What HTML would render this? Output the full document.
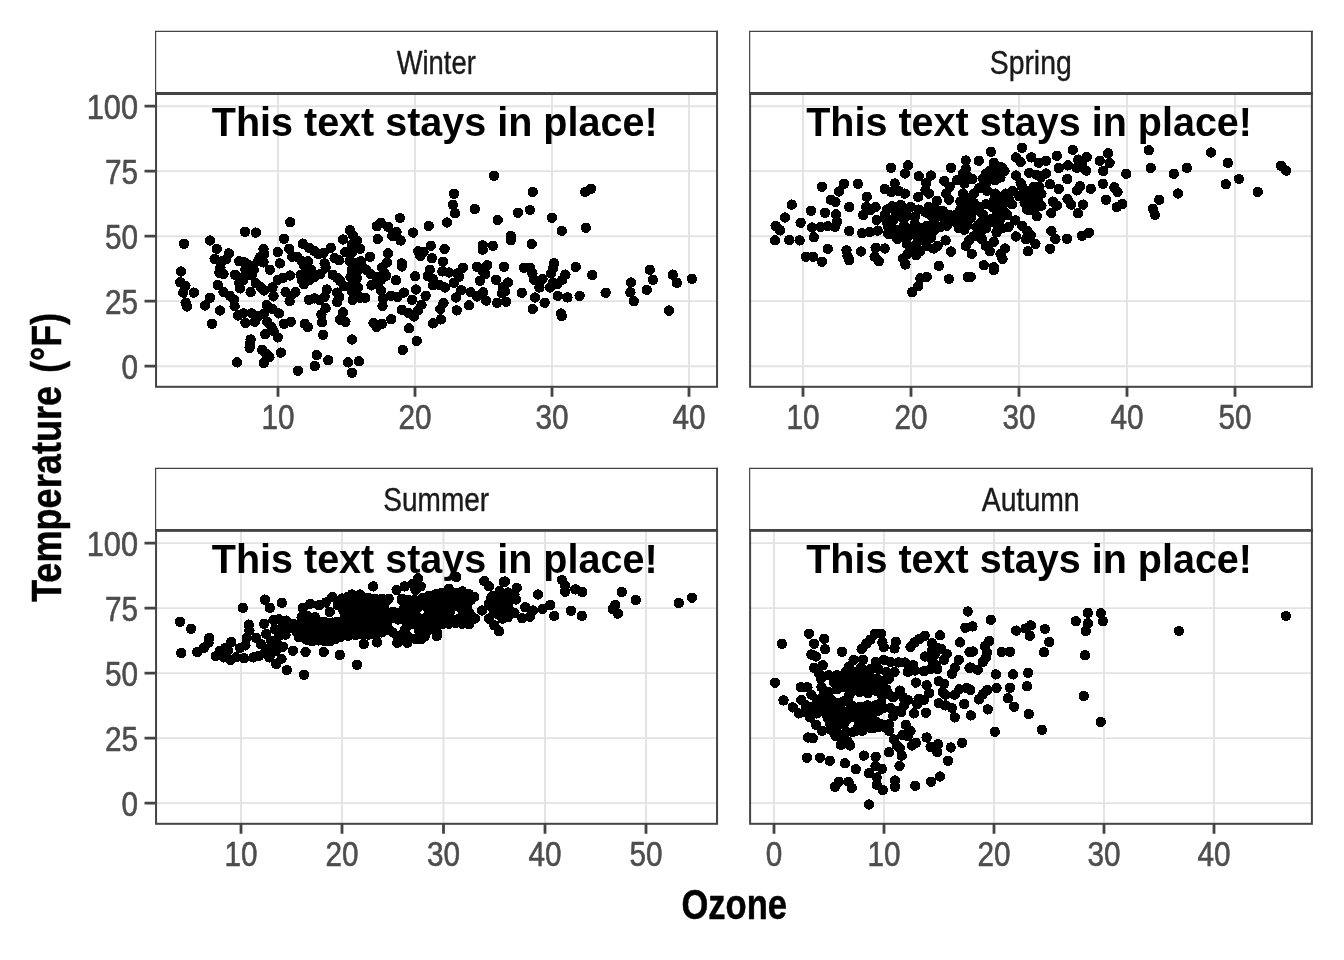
<!DOCTYPE html><html><head><meta charset="utf-8"><title>chart</title><style>html,body{margin:0;padding:0;background:#fff}svg{display:block;will-change:transform}text{font-family:"Liberation Sans",sans-serif}</style></head><body>
<svg width="1344" height="960" viewBox="0 0 1344 960">
<rect width="1344" height="960" fill="#fff"/>
<path d="M155.5 106.2H717.0M155.5 171.15H717.0M155.5 236.2H717.0M155.5 301.15H717.0M155.5 366.2H717.0M278 93.5V386.8M415 93.5V386.8M552 93.5V386.8M689 93.5V386.8" stroke="#e3e3e3" stroke-width="1.9" fill="none"/>
<path d="M184.0 243.8h0M180.8 271.5h0M180.2 282.2h0M185.4 285.9h0M183.3 292.6h0M193.8 292.6h0M185.6 302.6h0M187.1 306.5h0M210.0 240.5h0M216.7 248.8h0M214.6 258.8h0M222.5 261.3h0M220.4 267.6h0M219.4 272.8h0M223.5 274.2h0M217.7 284.9h0M210.0 297.8h0M204.8 305.5h0M220.0 310.5h0M212.1 323.8h0M223.5 292.2h0M228.8 253.4h0M226.2 259.2h0M229.8 295.7h0M234.0 299.9h0M234.6 306.1h0M238.1 315.5h0M243.3 313.4h0M237.1 362.4h0M239.2 261.3h0M235.0 274.9h0M240.2 278.0h0M239.2 283.2h0M240.2 288.4h0M244.4 262.4h0M245.0 231.8h0M245.4 269.7h0M245.4 275.9h0M243.3 280.1h0M255.8 232.6h0M250.6 292.2h0M249.6 265.5h0M253.8 269.7h0M251.7 274.9h0M257.9 261.3h0M260.0 257.2h0M263.5 248.8h0M264.2 254.0h0M263.5 262.4h0M255.8 283.2h0M261.0 287.4h0M264.2 290.5h0M245.4 322.8h0M251.7 313.4h0M254.8 321.8h0M257.9 316.5h0M250.6 339.5h0M250.0 343.6h0M249.6 347.8h0M262.1 349.9h0M266.2 354.0h0M269.4 357.2h0M263.8 363.0h0M265.2 334.2h0M264.2 313.4h0M266.7 305.1h0M269.8 269.7h0M272.5 287.4h0M273.5 296.3h0M277.7 252.0h0M279.8 263.4h0M277.7 279.7h0M284.0 238.8h0M272.5 309.2h0M278.8 313.4h0M267.3 321.8h0M271.5 327.0h0M273.5 331.1h0M277.7 337.4h0M280.8 352.6h0M284.0 323.8h0M282.9 278.0h0M290.2 222.2h0M289.2 248.8h0M292.3 256.8h0M297.5 257.2h0M290.2 275.5h0M285.6 292.2h0M290.8 295.7h0M295.4 292.2h0M289.6 301.3h0M290.8 321.8h0M297.9 370.7h0M302.7 243.6h0M301.7 261.3h0M303.8 265.5h0M300.6 274.9h0M301.7 280.1h0M303.8 284.2h0M304.8 323.8h0M307.9 327.0h0M309.0 247.8h0M314.2 250.9h0M318.3 254.0h0M323.5 253.0h0M307.9 261.3h0M311.0 269.7h0M307.9 273.8h0M314.2 277.0h0M309.0 280.1h0M320.4 273.8h0M325.6 267.6h0M324.6 263.4h0M309.0 299.9h0M314.2 298.4h0M319.4 299.9h0M324.6 296.8h0M326.7 289.5h0M325.6 308.2h0M321.5 314.5h0M322.1 322.2h0M323.1 334.9h0M316.7 355.1h0M314.8 366.1h0M330.8 247.8h0M328.3 360.3h0M334.6 258.2h0M339.2 260.3h0M332.9 274.9h0M337.1 278.0h0M340.2 281.1h0M343.3 239.5h0M345.4 252.0h0M337.1 292.6h0M339.2 296.8h0M337.1 302.0h0M342.9 312.4h0M340.2 319.7h0M345.4 321.8h0M344.4 286.3h0M350.0 230.1h0M352.7 235.3h0M356.9 240.5h0M351.7 244.7h0M360.0 248.8h0M351.7 253.0h0M349.6 261.3h0M355.8 263.4h0M361.0 261.3h0M351.7 269.7h0M357.9 270.7h0M363.1 267.6h0M350.6 277.0h0M356.9 278.0h0M352.7 284.2h0M357.9 287.4h0M351.7 291.5h0M356.9 294.7h0M352.7 299.9h0M360.0 297.8h0M365.2 297.8h0M366.2 269.7h0M352.1 339.5h0M348.1 362.4h0M359.0 361.3h0M352.1 372.8h0M370.0 256.8h0M376.7 226.3h0M380.8 222.8h0M388.1 227.0h0M377.7 239.0h0M370.4 273.8h0M376.7 277.0h0M371.5 285.3h0M377.7 284.2h0M380.8 280.1h0M381.9 267.6h0M387.1 262.4h0M388.1 253.4h0M384.0 272.8h0M380.8 290.5h0M382.9 298.8h0M382.5 306.1h0M373.5 322.8h0M376.7 327.0h0M381.9 323.8h0M386.0 275.9h0M400.0 218.0h0M396.5 231.8h0M392.3 235.9h0M400.6 240.5h0M401.7 263.4h0M401.7 266.5h0M396.0 280.1h0M391.2 295.7h0M397.5 296.8h0M403.8 292.6h0M391.2 319.2h0M401.7 309.7h0M409.0 313.4h0M402.7 349.9h0M409.0 328.4h0M413.1 232.6h0M428.8 225.9h0M430.8 245.7h0M418.3 251.3h0M423.5 252.0h0M420.4 256.1h0M431.9 258.2h0M415.2 276.3h0M416.2 289.5h0M412.1 299.9h0M425.6 295.7h0M421.5 304.7h0M418.3 310.3h0M414.2 316.5h0M416.7 340.9h0M432.9 323.4h0M429.8 269.7h0M427.7 275.9h0M432.9 279.0h0M432.9 285.3h0M494.0 175.8h0M454.0 193.8h0M452.9 204.8h0M455.0 213.1h0M447.1 222.5h0M474.8 209.0h0M497.7 220.0h0M517.9 212.7h0M530.0 210.0h0M532.7 191.9h0M551.9 217.7h0M561.7 230.8h0M585.8 227.7h0M585.2 191.9h0M591.0 188.8h0M510.8 236.0h0M510.8 240.2h0M531.7 244.0h0M482.7 245.4h0M482.7 249.6h0M492.9 245.8h0M444.6 249.0h0M442.9 261.7h0M504.0 266.9h0M575.8 266.9h0M592.1 275.0h0M554.0 263.1h0M442.5 271.5h0M448.8 272.5h0M457.1 273.5h0M462.9 267.7h0M459.2 276.7h0M439.4 285.0h0M445.0 287.5h0M454.0 282.9h0M461.2 290.2h0M456.0 297.5h0M443.5 303.3h0M440.4 309.0h0M440.8 319.4h0M456.7 310.4h0M469.0 305.4h0M476.9 266.7h0M487.3 265.2h0M483.1 271.5h0M485.2 274.2h0M480.0 280.8h0M470.6 292.3h0M476.9 296.5h0M483.1 292.3h0M486.2 300.6h0M496.0 279.8h0M508.1 282.5h0M502.9 287.1h0M505.0 291.2h0M501.9 293.3h0M506.0 301.7h0M497.1 302.9h0M521.7 292.7h0M523.8 267.7h0M530.0 267.7h0M532.5 273.5h0M534.2 279.8h0M542.5 278.8h0M539.4 287.5h0M549.8 287.5h0M552.9 282.9h0M550.8 273.5h0M552.9 268.3h0M565.4 274.6h0M562.3 279.8h0M557.1 284.0h0M534.8 297.5h0M544.6 302.7h0M532.7 309.0h0M557.7 295.8h0M567.5 297.5h0M579.6 295.8h0M561.2 313.5h0M561.7 316.2h0M605.6 292.7h0M631.0 282.5h0M630.4 292.3h0M633.8 301.2h0M646.7 289.8h0M652.9 279.8h0M649.8 269.8h0M672.7 274.6h0M676.9 282.9h0M691.9 278.8h0M669.0 310.6h0" stroke="#000" stroke-width="10.4" stroke-linecap="round" fill="none" shape-rendering="crispEdges"/>
<text transform="translate(434.65,135.80) scale(1,1.012)" font-size="39.53" font-weight="bold" text-anchor="middle" fill="#000">This text stays in place!</text>
<rect x="156.05" y="31.4" width="561.0" height="62.1" fill="#fff"/>
<path d="M155.60000000000002 93.5V31.299999999999997H718.0" stroke="#444444" stroke-width="1.2" fill="none"/>
<path d="M717.05 30.799999999999997V93.5" stroke="#444444" stroke-width="1.9" fill="none"/>
<text transform="translate(436.25,73.9) scale(0.838,1)" font-size="32.7" font-weight="normal" text-anchor="middle" fill="#1a1a1a" stroke="#1a1a1a" stroke-width="0.4" stroke-linejoin="round">Winter</text>
<rect x="156.05" y="93.5" width="561.0" height="293.3" fill="none" stroke="#444444" stroke-width="2.0"/>
<path d="M155.05 93.5H718.05" stroke="#444444" stroke-width="2.8" fill="none"/>
<path d="M278 386.8v10M415 386.8v10M552 386.8v10M689 386.8v10M155.5 106.2h-11M155.5 171.15h-11M155.5 236.2h-11M155.5 301.15h-11M155.5 366.2h-11" stroke="#444444" stroke-width="2.8" fill="none"/>
<text transform="translate(278,428.8) scale(0.84,1)" font-size="35.4" font-weight="normal" text-anchor="middle" fill="#4d4d4d" stroke="#4d4d4d" stroke-width="0.6" stroke-linejoin="round">10</text>
<text transform="translate(415,428.8) scale(0.84,1)" font-size="35.4" font-weight="normal" text-anchor="middle" fill="#4d4d4d" stroke="#4d4d4d" stroke-width="0.6" stroke-linejoin="round">20</text>
<text transform="translate(552,428.8) scale(0.84,1)" font-size="35.4" font-weight="normal" text-anchor="middle" fill="#4d4d4d" stroke="#4d4d4d" stroke-width="0.6" stroke-linejoin="round">30</text>
<text transform="translate(689,428.8) scale(0.84,1)" font-size="35.4" font-weight="normal" text-anchor="middle" fill="#4d4d4d" stroke="#4d4d4d" stroke-width="0.6" stroke-linejoin="round">40</text>
<text transform="translate(138.0,118.8) scale(0.869,1)" font-size="35.4" font-weight="normal" text-anchor="end" fill="#4d4d4d" stroke="#4d4d4d" stroke-width="0.6" stroke-linejoin="round">100</text>
<text transform="translate(138.0,183.75) scale(0.84,1)" font-size="35.4" font-weight="normal" text-anchor="end" fill="#4d4d4d" stroke="#4d4d4d" stroke-width="0.6" stroke-linejoin="round">75</text>
<text transform="translate(138.0,248.79999999999998) scale(0.84,1)" font-size="35.4" font-weight="normal" text-anchor="end" fill="#4d4d4d" stroke="#4d4d4d" stroke-width="0.6" stroke-linejoin="round">50</text>
<text transform="translate(138.0,313.75) scale(0.84,1)" font-size="35.4" font-weight="normal" text-anchor="end" fill="#4d4d4d" stroke="#4d4d4d" stroke-width="0.6" stroke-linejoin="round">25</text>
<text transform="translate(138.0,378.8) scale(0.84,1)" font-size="35.4" font-weight="normal" text-anchor="end" fill="#4d4d4d" stroke="#4d4d4d" stroke-width="0.6" stroke-linejoin="round">0</text>
<path d="M749.55 106.2H1311.85M749.55 171.15H1311.85M749.55 236.2H1311.85M749.55 301.15H1311.85M749.55 366.2H1311.85M803 93.5V386.8M911 93.5V386.8M1019 93.5V386.8M1127 93.5V386.8M1235 93.5V386.8" stroke="#e3e3e3" stroke-width="1.9" fill="none"/>
<path d="M791.7 204.6h0M785.0 217.5h0M775.6 225.8h0M780.2 230.4h0M775.0 240.4h0M800.6 222.7h0M789.2 240.0h0M799.6 240.4h0M811.0 210.8h0M812.1 227.5h0M813.8 237.3h0M821.9 186.7h0M825.0 212.9h0M830.8 199.8h0M835.4 201.9h0M838.8 191.5h0M844.0 183.8h0M857.9 183.8h0M836.0 214.4h0M820.4 226.9h0M827.7 226.2h0M835.0 226.9h0M837.1 221.7h0M849.2 207.1h0M849.2 231.0h0M827.7 248.8h0M805.8 256.7h0M813.1 256.7h0M821.9 261.7h0M846.5 250.4h0M847.5 256.0h0M849.2 260.2h0M861.0 251.5h0M862.1 233.1h0M869.8 232.1h0M877.7 230.6h0M866.7 196.7h0M866.2 207.1h0M870.4 210.2h0M875.6 207.1h0M863.1 215.0h0M876.7 220.0h0M875.6 247.7h0M874.6 256.7h0M878.8 261.2h0M993.8 270.0h0M920.4 278.3h0M926.7 276.9h0M918.3 286.2h0M912.1 292.1h0M949.0 279.0h0M967.7 276.9h0M970.8 276.9h0M1072.7 149.8h0M1108.1 153.3h0M1086.7 157.1h0M1078.3 159.6h0M1099.8 160.8h0M1109.6 162.9h0M1067.9 165.4h0M1076.9 167.9h0M1086.2 170.6h0M1082.1 163.3h0M1103.3 171.0h0M1126.2 173.8h0M1148.8 150.2h0M1150.8 167.9h0M1173.8 173.8h0M1186.9 167.9h0M1210.8 152.5h0M1227.9 162.9h0M1239.0 179.0h0M1225.8 184.2h0M1257.7 191.9h0M1281.0 165.8h0M1286.2 170.6h0M1067.1 179.0h0M1076.9 190.4h0M1080.0 186.2h0M1090.8 188.8h0M1102.9 183.8h0M1114.4 187.3h0M1117.5 192.1h0M1106.0 199.8h0M1122.3 204.0h0M1116.9 207.1h0M1159.2 199.8h0M1177.9 193.5h0M1152.9 208.8h0M1155.0 215.0h0M1067.5 198.8h0M1071.2 204.6h0M1083.1 204.6h0M1077.9 213.3h0M1067.1 238.8h0M1082.1 235.8h0M1089.0 232.7h0M1022.0 147.8h0M990.9 151.8h0M965.7 160.5h0M978.8 160.8h0M1015.9 157.4h0M1020.6 162.1h0M1031.3 157.4h0M1046.1 160.8h0M1038.7 162.8h0M1056.8 155.8h0M1058.8 168.1h0M891.0 167.9h0M907.9 165.4h0M904.8 173.5h0M951.0 167.9h0M965.7 168.8h0M993.8 162.8h0M997.9 166.8h0M989.8 170.8h0M985.8 173.5h0M996.5 172.1h0M1004.5 170.8h0M991.2 177.5h0M1029.3 172.8h0M1036.7 174.8h0M1046.1 173.5h0M1040.7 177.5h0M918.8 176.2h0M930.9 175.5h0M926.2 182.9h0M925.5 190.2h0M928.9 193.6h0M918.2 196.9h0M944.3 180.8h0M949.6 186.9h0M946.3 193.6h0M949.0 199.6h0M936.9 200.9h0M957.0 180.2h0M964.4 183.5h0M967.7 176.2h0M972.4 178.8h0M963.0 173.5h0M1015.9 175.5h0M1020.6 182.9h0M1026.0 190.9h0M1022.0 186.2h0M894.7 183.5h0M884.7 188.9h0M891.4 192.2h0M898.7 190.9h0M904.8 193.6h0M979.1 188.2h0M985.8 184.2h0M987.1 190.9h0M995.2 193.6h0M973.7 193.6h0M969.1 197.6h0M960.4 201.6h0M967.0 203.6h0M1005.9 193.6h0M1012.6 190.9h0M1008.6 198.9h0M1003.2 203.6h0M1011.9 204.3h0M1001.2 209.6h0M1039.4 186.9h0M1050.1 184.2h0M1058.8 188.9h0M1034.0 194.9h0M1041.4 193.6h0M1026.0 198.9h0M1024.6 202.9h0M1030.7 204.3h0M1036.0 207.0h0M1041.4 205.6h0M1031.3 210.3h0M1036.7 216.3h0M1052.8 201.6h0M1056.8 205.6h0M1051.4 213.0h0M892.1 206.3h0M900.8 205.0h0M910.8 207.0h0M906.8 209.6h0M918.8 209.6h0M928.9 207.0h0M925.5 212.3h0M884.7 215.0h0M890.0 220.4h0M900.1 215.0h0M903.4 219.0h0M914.8 217.0h0M942.9 211.0h0M937.6 216.3h0M933.6 221.7h0M949.6 215.0h0M957.7 214.3h0M965.7 212.3h0M972.4 209.6h0M979.1 207.0h0M985.8 204.3h0M992.5 207.0h0M983.1 215.0h0M996.5 215.0h0M971.1 217.7h0M963.0 220.4h0M955.0 221.7h0M947.0 225.7h0M940.3 227.0h0M959.0 228.4h0M964.4 229.7h0M933.6 231.1h0M926.9 225.7h0M920.2 228.4h0M1000.5 219.0h0M1007.2 215.0h0M1015.3 220.4h0M995.2 223.0h0M987.1 223.0h0M1022.0 225.7h0M1008.6 227.0h0M1027.3 231.1h0M1001.9 228.4h0M996.5 232.4h0M985.8 228.4h0M979.8 232.4h0M973.7 236.4h0M969.1 240.4h0M965.7 245.8h0M971.7 253.8h0M981.8 239.1h0M985.8 245.8h0M989.8 251.2h0M993.8 241.8h0M1005.2 248.5h0M1000.5 253.8h0M1002.5 259.2h0M1015.9 236.4h0M1026.0 239.1h0M1030.7 235.1h0M1035.4 243.8h0M1028.0 251.2h0M1051.4 231.1h0M1055.4 239.1h0M1050.1 248.7h0M888.0 227.0h0M892.1 233.7h0M897.4 239.1h0M886.7 221.7h0M902.8 231.1h0M908.1 236.4h0M913.5 233.7h0M917.5 241.8h0M924.2 239.1h0M930.9 237.8h0M926.9 245.8h0M933.6 248.5h0M937.6 245.8h0M912.1 249.8h0M907.5 253.8h0M902.8 258.5h0M916.2 255.2h0M920.2 251.2h0M905.4 264.5h0M945.6 240.4h0M951.0 251.6h0M938.9 265.9h0M884.7 248.5h0M983.8 265.2h0M993.8 267.2h0M1000.5 177.5h0M995.2 180.2h0M987.1 179.5h0M1001.9 167.5h0M983.1 178.8h0M886.7 209.6h0M896.1 212.3h0M906.8 215.7h0M914.8 223.7h0M893.4 220.4h0M888.0 233.7h0M910.8 229.1h0M920.2 233.7h0M900.1 236.4h0M906.8 243.8h0M915.5 246.5h0M924.2 232.4h0M930.9 215.0h0M936.2 209.6h0M896.1 229.7h0M904.1 225.7h0M944.3 219.0h0M952.3 220.4h0M960.4 209.6h0M968.4 220.4h0M967.0 225.7h0M955.0 215.0h0M963.0 193.6h0M973.7 202.9h0M979.1 211.0h0M993.8 200.3h0M1000.5 197.6h0M997.9 205.6h0M1004.5 212.3h0M991.2 219.0h0M980.4 223.0h0M976.4 227.0h0M1030.0 193.6h0M1038.0 198.9h0M1027.3 209.6h0M1034.0 186.9h0M1019.3 196.2h0" stroke="#000" stroke-width="10.4" stroke-linecap="round" fill="none" shape-rendering="crispEdges"/>
<text transform="translate(1029.10,135.80) scale(1,1.012)" font-size="39.53" font-weight="bold" text-anchor="middle" fill="#000">This text stays in place!</text>
<rect x="750.0999999999999" y="31.4" width="561.8" height="62.1" fill="#fff"/>
<path d="M749.6499999999999 93.5V31.299999999999997H1312.85" stroke="#444444" stroke-width="1.2" fill="none"/>
<path d="M1311.8999999999999 30.799999999999997V93.5" stroke="#444444" stroke-width="1.9" fill="none"/>
<text transform="translate(1030.6999999999998,73.9) scale(0.867,1)" font-size="32.7" font-weight="normal" text-anchor="middle" fill="#1a1a1a" stroke="#1a1a1a" stroke-width="0.4" stroke-linejoin="round">Spring</text>
<rect x="750.0999999999999" y="93.5" width="561.8" height="293.3" fill="none" stroke="#444444" stroke-width="2.0"/>
<path d="M749.0999999999999 93.5H1312.8999999999999" stroke="#444444" stroke-width="2.8" fill="none"/>
<path d="M803 386.8v10M911 386.8v10M1019 386.8v10M1127 386.8v10M1235 386.8v10" stroke="#444444" stroke-width="2.8" fill="none"/>
<text transform="translate(803,428.8) scale(0.84,1)" font-size="35.4" font-weight="normal" text-anchor="middle" fill="#4d4d4d" stroke="#4d4d4d" stroke-width="0.6" stroke-linejoin="round">10</text>
<text transform="translate(911,428.8) scale(0.84,1)" font-size="35.4" font-weight="normal" text-anchor="middle" fill="#4d4d4d" stroke="#4d4d4d" stroke-width="0.6" stroke-linejoin="round">20</text>
<text transform="translate(1019,428.8) scale(0.84,1)" font-size="35.4" font-weight="normal" text-anchor="middle" fill="#4d4d4d" stroke="#4d4d4d" stroke-width="0.6" stroke-linejoin="round">30</text>
<text transform="translate(1127,428.8) scale(0.84,1)" font-size="35.4" font-weight="normal" text-anchor="middle" fill="#4d4d4d" stroke="#4d4d4d" stroke-width="0.6" stroke-linejoin="round">40</text>
<text transform="translate(1235,428.8) scale(0.84,1)" font-size="35.4" font-weight="normal" text-anchor="middle" fill="#4d4d4d" stroke="#4d4d4d" stroke-width="0.6" stroke-linejoin="round">50</text>
<path d="M155.5 543.1500000000001H717.0M155.5 608.1H717.0M155.5 673.1500000000001H717.0M155.5 738.1H717.0M155.5 803.1500000000001H717.0M241 530.45V823.8M342 530.45V823.8M443.5 530.45V823.8M545 530.45V823.8M646 530.45V823.8" stroke="#e3e3e3" stroke-width="1.9" fill="none"/>
<path d="M180.0 621.9h0M191.1 628.9h0M181.1 653.0h0M209.2 638.0h0M208.5 642.7h0M203.8 648.0h0M197.1 652.0h0M242.9 607.9h0M264.8 599.6h0M269.9 607.9h0M281.9 602.9h0M215.9 656.1h0M219.9 650.7h0M225.3 648.0h0M231.3 642.0h0M227.9 650.7h0M230.6 660.1h0M223.9 657.4h0M236.0 657.4h0M240.0 648.0h0M244.0 658.1h0M245.4 645.4h0M246.7 638.0h0M249.4 630.6h0M248.7 624.6h0M256.1 638.0h0M260.8 644.0h0M253.4 657.4h0M258.7 656.1h0M264.1 653.4h0M264.1 623.9h0M266.1 634.0h0M270.8 640.7h0M269.5 648.0h0M269.5 657.4h0M273.5 619.9h0M278.8 619.2h0M286.2 620.6h0M274.8 629.3h0M281.5 627.9h0M278.8 636.0h0M285.5 634.6h0M277.5 644.0h0M282.9 646.7h0M276.2 650.7h0M281.5 658.7h0M276.2 664.1h0M286.9 670.1h0M292.9 650.7h0M304.0 674.8h0M305.6 652.0h0M323.7 652.0h0M339.8 655.0h0M302.9 607.9h0M310.3 603.8h0M301.6 617.2h0M307.0 615.9h0M319.0 605.2h0M325.7 602.5h0M332.4 597.1h0M341.8 598.5h0M329.7 611.9h0M315.0 617.2h0M311.0 622.6h0M337.8 605.2h0M343.1 609.2h0M296.2 629.3h0M300.3 636.0h0M305.6 627.9h0M312.3 632.0h0M307.0 640.0h0M319.0 626.6h0M325.7 622.6h0M332.4 627.9h0M339.1 622.6h0M344.5 627.9h0M319.0 637.3h0M325.7 634.6h0M329.7 641.3h0M337.8 636.0h0M312.3 641.3h0M343.1 634.6h0M290.9 627.9h0M293.6 623.9h0M303.5 623.4h0M309.3 621.5h0M315.9 623.8h0M322.6 621.8h0M330.5 623.4h0M336.7 621.9h0M343.6 623.4h0M298.7 629.5h0M306.0 629.0h0M313.9 629.6h0M319.8 629.4h0M326.4 629.3h0M334.6 629.4h0M341.6 629.3h0M303.7 635.4h0M309.7 633.7h0M315.8 635.2h0M324.6 633.5h0M329.8 635.2h0M337.2 634.7h0M345.3 634.7h0M326.4 641.1h0M295.6 627.9h0M301.6 622.6h0M307.8 622.6h0M314.0 622.6h0M320.2 622.6h0M326.4 622.6h0M332.6 622.6h0M338.8 622.6h0M345.0 622.6h0M345.0 628.9h0M345.0 635.3h0M339.9 637.3h0M334.8 639.3h0M329.7 641.3h0M323.9 640.9h0M318.1 640.4h0M312.3 640.0h0M305.6 638.7h0M298.9 637.3h0M297.2 632.6h0M373.2 586.4h0M351.7 594.5h0M359.8 594.5h0M396.6 589.8h0M404.6 586.4h0M412.7 583.7h0M418.0 578.4h0M420.7 586.4h0M415.4 589.8h0M456.2 577.1h0M363.8 644.0h0M377.2 642.4h0M397.3 642.7h0M407.3 642.7h0M420.7 639.3h0M436.8 636.0h0M484.3 581.1h0M489.0 586.4h0M503.7 581.7h0M499.7 591.1h0M493.0 598.5h0M489.0 603.8h0M482.3 610.5h0M489.0 618.6h0M494.4 625.3h0M499.1 631.3h0M502.4 597.1h0M501.1 610.5h0M495.7 606.5h0M339.7 654.7h0M357.1 664.8h0M437.8 594.0h0M445.2 594.9h0M453.2 593.7h0M461.0 595.6h0M466.3 595.5h0M344.2 601.4h0M352.0 601.2h0M359.9 601.8h0M365.7 600.2h0M372.2 601.3h0M379.3 600.4h0M386.0 600.8h0M401.8 600.0h0M408.4 601.6h0M414.7 599.9h0M420.7 600.8h0M429.3 600.3h0M434.3 600.6h0M441.8 600.4h0M449.5 601.8h0M456.6 600.5h0M463.6 601.4h0M471.3 599.6h0M349.1 605.6h0M354.5 607.3h0M361.7 606.2h0M368.3 607.3h0M376.0 606.5h0M384.1 607.7h0M404.3 608.0h0M410.2 606.0h0M417.5 608.0h0M426.3 606.4h0M432.4 606.8h0M438.6 607.8h0M447.2 606.3h0M451.9 607.7h0M460.2 607.8h0M467.2 607.4h0M344.2 612.3h0M351.9 612.9h0M357.8 613.5h0M364.9 613.4h0M374.1 611.9h0M380.3 612.5h0M387.8 613.5h0M393.1 611.9h0M399.7 612.5h0M407.1 611.7h0M415.3 613.3h0M428.8 613.1h0M435.4 613.4h0M442.7 612.7h0M449.5 613.4h0M464.2 612.4h0M469.6 613.5h0M347.9 618.4h0M354.4 618.3h0M362.2 618.8h0M369.7 619.2h0M377.6 618.4h0M383.9 617.8h0M391.2 618.2h0M397.8 619.5h0M403.8 619.7h0M412.2 619.4h0M417.6 617.7h0M425.4 618.2h0M432.0 620.1h0M438.3 618.4h0M445.5 618.1h0M452.9 619.9h0M460.0 618.2h0M467.0 618.2h0M474.1 618.4h0M345.4 624.3h0M352.3 625.1h0M360.1 625.0h0M366.1 625.0h0M374.1 625.8h0M379.5 624.1h0M386.9 624.8h0M407.0 625.8h0M413.5 623.9h0M422.1 626.0h0M429.3 625.7h0M435.7 624.2h0M347.4 629.8h0M355.5 630.6h0M362.2 631.3h0M369.2 631.9h0M376.8 631.2h0M384.4 630.4h0M404.6 630.2h0M419.1 630.9h0M424.1 631.3h0M400.6 636.3h0M408.5 637.1h0M422.2 637.7h0M345.0 600.1h0M348.4 596.7h0M355.1 596.7h0M361.8 596.7h0M368.5 597.7h0M375.2 598.7h0M381.9 598.7h0M388.6 598.7h0M402.0 598.7h0M408.7 599.8h0M415.4 600.8h0M422.0 598.4h0M428.7 596.1h0M435.4 594.4h0M442.1 592.7h0M448.8 588.7h0M455.5 592.7h0M462.2 591.4h0M468.9 594.1h0M474.3 596.7h0M474.9 618.6h0M468.9 624.3h0M462.2 623.7h0M455.5 623.0h0M448.8 623.7h0M442.1 624.3h0M436.8 632.0h0M428.7 629.7h0M424.7 636.4h0M420.0 637.7h0M415.4 639.1h0M408.7 639.7h0M402.0 640.4h0M397.3 636.4h0M392.6 632.4h0M388.6 629.7h0M381.9 632.4h0M375.2 635.0h0M368.5 634.7h0M361.8 634.4h0M355.1 635.0h0M348.4 635.7h0M345.0 635.0h0M345.0 629.2h0M345.0 623.4h0M345.0 617.6h0M345.0 611.7h0M345.0 605.9h0M491.3 597.8h0M498.6 598.6h0M506.7 597.5h0M497.0 605.4h0M502.4 605.3h0M498.7 611.2h0M506.4 611.0h0M503.9 617.6h0M493.0 595.8h0M500.4 594.1h0M507.8 592.5h0M507.8 598.6h0M507.8 604.8h0M507.8 611.0h0M507.8 617.2h0M502.4 618.6h0M497.9 614.1h0M493.5 609.6h0M489.0 605.2h0M491.0 600.5h0M562.0 580.0h0M565.2 585.5h0M565.2 591.7h0M575.3 589.4h0M582.3 592.0h0M537.8 594.5h0M516.7 587.8h0M514.4 594.1h0M515.9 599.5h0M505.0 581.6h0M508.1 601.9h0M550.3 605.0h0M542.5 608.9h0M533.1 610.5h0M525.3 607.3h0M530.0 616.7h0M522.2 618.3h0M514.4 612.8h0M508.9 608.9h0M505.0 615.9h0M554.2 615.9h0M571.1 610.8h0M581.9 615.9h0M621.9 592.0h0M635.9 600.0h0M615.2 605.0h0M612.8 608.9h0M617.8 613.6h0M678.9 603.0h0M692.0 597.7h0" stroke="#000" stroke-width="10.4" stroke-linecap="round" fill="none" shape-rendering="crispEdges"/>
<text transform="translate(434.65,572.75) scale(1,1.012)" font-size="39.53" font-weight="bold" text-anchor="middle" fill="#000">This text stays in place!</text>
<rect x="156.05" y="468.4" width="561.0" height="62.05000000000007" fill="#fff"/>
<path d="M155.60000000000002 530.45V468.29999999999995H718.0" stroke="#444444" stroke-width="1.2" fill="none"/>
<path d="M717.05 467.79999999999995V530.45" stroke="#444444" stroke-width="1.9" fill="none"/>
<text transform="translate(436.25,510.9) scale(0.857,1)" font-size="32.7" font-weight="normal" text-anchor="middle" fill="#1a1a1a" stroke="#1a1a1a" stroke-width="0.4" stroke-linejoin="round">Summer</text>
<rect x="156.05" y="530.45" width="561.0" height="293.3499999999999" fill="none" stroke="#444444" stroke-width="2.0"/>
<path d="M155.05 530.45H718.05" stroke="#444444" stroke-width="2.8" fill="none"/>
<path d="M241 823.8v10M342 823.8v10M443.5 823.8v10M545 823.8v10M646 823.8v10M155.5 543.1500000000001h-11M155.5 608.1h-11M155.5 673.1500000000001h-11M155.5 738.1h-11M155.5 803.1500000000001h-11" stroke="#444444" stroke-width="2.8" fill="none"/>
<text transform="translate(241,865.8) scale(0.84,1)" font-size="35.4" font-weight="normal" text-anchor="middle" fill="#4d4d4d" stroke="#4d4d4d" stroke-width="0.6" stroke-linejoin="round">10</text>
<text transform="translate(342,865.8) scale(0.84,1)" font-size="35.4" font-weight="normal" text-anchor="middle" fill="#4d4d4d" stroke="#4d4d4d" stroke-width="0.6" stroke-linejoin="round">20</text>
<text transform="translate(443.5,865.8) scale(0.84,1)" font-size="35.4" font-weight="normal" text-anchor="middle" fill="#4d4d4d" stroke="#4d4d4d" stroke-width="0.6" stroke-linejoin="round">30</text>
<text transform="translate(545,865.8) scale(0.84,1)" font-size="35.4" font-weight="normal" text-anchor="middle" fill="#4d4d4d" stroke="#4d4d4d" stroke-width="0.6" stroke-linejoin="round">40</text>
<text transform="translate(646,865.8) scale(0.84,1)" font-size="35.4" font-weight="normal" text-anchor="middle" fill="#4d4d4d" stroke="#4d4d4d" stroke-width="0.6" stroke-linejoin="round">50</text>
<text transform="translate(138.0,555.7500000000001) scale(0.869,1)" font-size="35.4" font-weight="normal" text-anchor="end" fill="#4d4d4d" stroke="#4d4d4d" stroke-width="0.6" stroke-linejoin="round">100</text>
<text transform="translate(138.0,620.7) scale(0.84,1)" font-size="35.4" font-weight="normal" text-anchor="end" fill="#4d4d4d" stroke="#4d4d4d" stroke-width="0.6" stroke-linejoin="round">75</text>
<text transform="translate(138.0,685.7500000000001) scale(0.84,1)" font-size="35.4" font-weight="normal" text-anchor="end" fill="#4d4d4d" stroke="#4d4d4d" stroke-width="0.6" stroke-linejoin="round">50</text>
<text transform="translate(138.0,750.7) scale(0.84,1)" font-size="35.4" font-weight="normal" text-anchor="end" fill="#4d4d4d" stroke="#4d4d4d" stroke-width="0.6" stroke-linejoin="round">25</text>
<text transform="translate(138.0,815.7500000000001) scale(0.84,1)" font-size="35.4" font-weight="normal" text-anchor="end" fill="#4d4d4d" stroke="#4d4d4d" stroke-width="0.6" stroke-linejoin="round">0</text>
<path d="M749.55 543.1500000000001H1311.85M749.55 608.1H1311.85M749.55 673.1500000000001H1311.85M749.55 738.1H1311.85M749.55 803.1500000000001H1311.85M774 530.45V823.8M884 530.45V823.8M994 530.45V823.8M1104 530.45V823.8M1214 530.45V823.8" stroke="#e3e3e3" stroke-width="1.9" fill="none"/>
<path d="M781.9 643.8h0M775.0 682.7h0M783.5 700.4h0M806.9 757.7h0M820.0 757.7h0M829.8 760.8h0M845.0 763.3h0M855.8 769.2h0M863.8 755.6h0M868.8 773.3h0M875.6 756.7h0M875.6 766.0h0M881.9 768.8h0M876.7 777.5h0M876.7 784.8h0M882.9 790.0h0M838.8 781.7h0M848.5 781.7h0M835.0 786.9h0M851.7 787.9h0M895.0 780.6h0M895.0 786.9h0M915.2 785.8h0M931.2 781.7h0M939.8 776.5h0M899.6 766.0h0M901.7 755.6h0M948.1 760.8h0M970.8 715.4h0M987.7 709.4h0M994.8 731.7h0M1028.8 714.0h0M1007.9 698.3h0M1014.2 706.7h0M996.5 687.9h0M1010.0 687.9h0M1027.1 686.2h0M995.8 674.4h0M1013.1 674.4h0M1028.1 672.9h0M1001.7 651.9h0M1010.0 651.9h0M1016.2 630.6h0M1025.6 628.5h0M1030.8 625.4h0M1029.8 635.8h0M990.8 619.8h0M967.7 611.5h0M972.5 626.5h0M989.2 641.0h0M985.0 646.2h0M987.1 652.5h0M986.0 657.7h0M982.9 661.9h0M972.9 651.5h0M970.4 667.5h0M977.7 669.8h0M987.1 690.0h0M982.9 694.2h0M978.8 699.4h0M970.4 690.0h0M1087.9 612.9h0M1100.8 613.3h0M1102.9 621.2h0M1075.8 621.2h0M1087.9 623.3h0M1085.8 631.0h0M1045.0 629.0h0M1049.2 642.1h0M1044.0 652.1h0M1085.0 655.2h0M1083.8 696.0h0M1100.8 721.9h0M1041.9 729.8h0M1179.0 631.0h0M1286.0 616.0h0M868.8 804.5h0M809.0 633.7h0M824.2 638.8h0M814.1 643.7h0M825.1 649.1h0M811.4 654.5h0M816.1 656.5h0M842.0 651.8h0M822.8 665.2h0M814.1 667.9h0M818.8 673.2h0M820.8 678.6h0M875.0 633.7h0M881.1 633.7h0M870.4 639.7h0M866.3 643.7h0M861.6 649.1h0M882.4 642.4h0M883.7 647.1h0M895.8 641.7h0M894.5 648.4h0M924.6 635.7h0M919.2 639.1h0M914.5 642.4h0M910.5 647.1h0M932.0 643.1h0M940.0 635.4h0M960.1 642.4h0M941.3 649.1h0M946.7 653.8h0M925.3 656.5h0M944.0 659.8h0M936.0 665.2h0M932.0 650.4h0M969.5 651.8h0M965.4 627.7h0M958.7 659.8h0M954.7 667.9h0M952.0 673.9h0M969.5 667.9h0M853.6 659.8h0M863.0 659.8h0M875.7 661.8h0M883.7 659.8h0M890.4 661.8h0M898.5 662.5h0M905.2 662.5h0M913.2 665.2h0M907.9 671.9h0M915.2 670.5h0M923.9 671.2h0M930.6 669.2h0M937.3 669.2h0M848.9 666.5h0M861.0 667.9h0M866.3 671.9h0M878.4 669.2h0M886.4 671.9h0M894.5 671.9h0M889.1 678.6h0M883.7 681.2h0M877.0 678.6h0M828.8 675.2h0M836.9 675.2h0M843.6 677.2h0M834.2 682.6h0M840.9 683.9h0M848.9 678.6h0M855.6 677.2h0M862.3 681.2h0M857.0 685.3h0M848.9 687.9h0M865.0 687.9h0M871.7 689.3h0M800.7 687.3h0M807.4 687.3h0M821.5 687.3h0M811.4 694.6h0M816.8 700.0h0M824.8 697.3h0M831.5 700.0h0M836.9 702.7h0M843.6 701.3h0M848.9 696.0h0M801.4 700.0h0M806.1 705.4h0M792.7 707.4h0M798.7 713.4h0M804.7 712.0h0M810.1 717.4h0M816.8 713.4h0M823.5 710.7h0M830.2 708.0h0M827.5 717.4h0M834.2 712.0h0M851.6 705.4h0M859.6 706.7h0M867.7 705.4h0M875.7 705.4h0M882.4 696.0h0M881.1 702.7h0M889.1 694.6h0M893.1 697.3h0M899.8 690.6h0M903.2 697.3h0M907.9 700.0h0M903.8 705.4h0M897.1 710.7h0M890.4 708.0h0M893.1 716.1h0M901.2 712.0h0M915.9 682.6h0M926.6 685.3h0M929.3 693.3h0M918.6 698.7h0M923.9 700.0h0M917.2 704.0h0M913.9 713.4h0M925.9 712.7h0M938.7 681.2h0M944.0 683.9h0M942.7 692.0h0M945.4 694.6h0M954.7 694.6h0M959.4 689.3h0M966.8 687.9h0M938.7 703.3h0M945.4 705.4h0M952.0 708.0h0M954.7 717.4h0M964.1 704.0h0M838.2 718.7h0M843.6 713.4h0M850.3 717.4h0M843.6 724.1h0M836.9 726.8h0M832.9 721.4h0M857.0 718.7h0M863.7 716.1h0M870.4 718.7h0M875.7 721.4h0M865.0 724.1h0M873.0 728.1h0M858.3 726.8h0M852.9 732.1h0M846.2 732.1h0M838.2 733.5h0M835.5 736.2h0M843.6 738.8h0M840.9 744.9h0M850.3 745.5h0M847.6 741.5h0M889.1 724.1h0M889.1 730.8h0M883.7 726.8h0M878.4 726.8h0M816.1 724.8h0M822.1 730.8h0M808.1 737.5h0M812.8 738.2h0M905.8 724.8h0M910.5 730.8h0M902.5 734.8h0M907.9 736.2h0M893.8 739.5h0M897.1 745.5h0M899.8 748.2h0M889.1 752.2h0M915.9 742.9h0M911.9 745.5h0M926.6 737.5h0M930.6 746.9h0M938.0 744.2h0M950.7 747.5h0M962.1 742.9h0M937.3 752.2h0M846.2 671.2h0M870.4 669.2h0M870.4 677.2h0M869.0 683.9h0M873.0 684.6h0M828.8 692.0h0M823.5 694.6h0M851.6 692.0h0M859.6 692.0h0M867.7 693.3h0M875.7 690.6h0M878.4 686.6h0M816.8 705.4h0M823.5 704.0h0M811.4 706.7h0M848.9 710.7h0M857.0 712.0h0M865.0 710.7h0M873.0 712.0h0M878.4 710.7h0M883.7 708.0h0M855.6 730.8h0M862.3 730.8h0M870.4 728.1h0M881.1 724.1h0M830.2 724.1h0M830.2 729.5h0M834.2 730.8h0M840.9 709.4h0M830.2 713.4h0M847.6 718.7h0M886.4 689.3h0M934.6 654.5h0M932.0 659.8h0M937.3 647.8h0M854.3 671.9h0M861.0 674.6h0M840.9 678.6h0M846.2 683.9h0M851.6 682.6h0M836.9 689.3h0M843.6 686.6h0" stroke="#000" stroke-width="10.4" stroke-linecap="round" fill="none" shape-rendering="crispEdges"/>
<text transform="translate(1029.10,572.75) scale(1,1.012)" font-size="39.53" font-weight="bold" text-anchor="middle" fill="#000">This text stays in place!</text>
<rect x="750.0999999999999" y="468.4" width="561.8" height="62.05000000000007" fill="#fff"/>
<path d="M749.6499999999999 530.45V468.29999999999995H1312.85" stroke="#444444" stroke-width="1.2" fill="none"/>
<path d="M1311.8999999999999 467.79999999999995V530.45" stroke="#444444" stroke-width="1.9" fill="none"/>
<text transform="translate(1030.6999999999998,510.9) scale(0.867,1)" font-size="32.7" font-weight="normal" text-anchor="middle" fill="#1a1a1a" stroke="#1a1a1a" stroke-width="0.4" stroke-linejoin="round">Autumn</text>
<rect x="750.0999999999999" y="530.45" width="561.8" height="293.3499999999999" fill="none" stroke="#444444" stroke-width="2.0"/>
<path d="M749.0999999999999 530.45H1312.8999999999999" stroke="#444444" stroke-width="2.8" fill="none"/>
<path d="M774 823.8v10M884 823.8v10M994 823.8v10M1104 823.8v10M1214 823.8v10" stroke="#444444" stroke-width="2.8" fill="none"/>
<text transform="translate(774,865.8) scale(0.84,1)" font-size="35.4" font-weight="normal" text-anchor="middle" fill="#4d4d4d" stroke="#4d4d4d" stroke-width="0.6" stroke-linejoin="round">0</text>
<text transform="translate(884,865.8) scale(0.84,1)" font-size="35.4" font-weight="normal" text-anchor="middle" fill="#4d4d4d" stroke="#4d4d4d" stroke-width="0.6" stroke-linejoin="round">10</text>
<text transform="translate(994,865.8) scale(0.84,1)" font-size="35.4" font-weight="normal" text-anchor="middle" fill="#4d4d4d" stroke="#4d4d4d" stroke-width="0.6" stroke-linejoin="round">20</text>
<text transform="translate(1104,865.8) scale(0.84,1)" font-size="35.4" font-weight="normal" text-anchor="middle" fill="#4d4d4d" stroke="#4d4d4d" stroke-width="0.6" stroke-linejoin="round">30</text>
<text transform="translate(1214,865.8) scale(0.84,1)" font-size="35.4" font-weight="normal" text-anchor="middle" fill="#4d4d4d" stroke="#4d4d4d" stroke-width="0.6" stroke-linejoin="round">40</text>
<text transform="translate(734.2,919.0) scale(0.797,1)" font-size="43.3" font-weight="bold" text-anchor="middle" fill="#000" stroke="#000" stroke-width="0.5" stroke-linejoin="round">Ozone</text>
<text transform="translate(61.1,602.1) rotate(-90) scale(0.835,1)" font-size="43.3" font-weight="bold" text-anchor="start" fill="#000" stroke="#000" stroke-width="0.5" stroke-linejoin="round">Temperature</text>
<text transform="translate(61.1,312.9) rotate(-90) scale(0.826,1)" font-size="43.3" font-weight="bold" text-anchor="end" fill="#000" stroke="#000" stroke-width="0.5" stroke-linejoin="round">(°F)</text>
</svg></body></html>
